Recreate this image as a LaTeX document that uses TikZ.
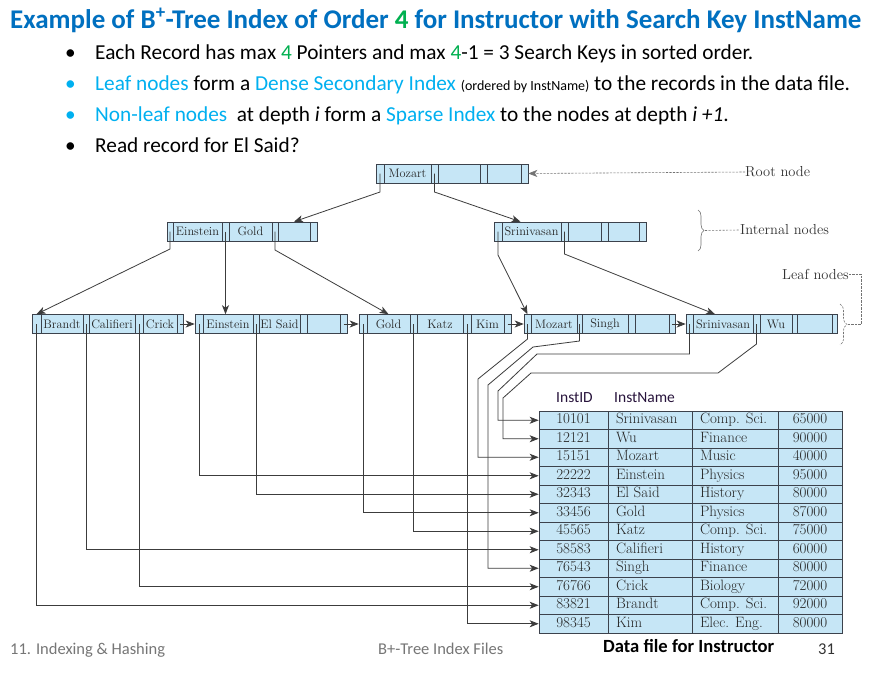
\documentclass[tikz,border=0pt]{standalone}
\usepackage{fontspec}
\newfontfamily\calibri{Carlito}
\usetikzlibrary{arrows.meta,decorations.pathreplacing}

\definecolor{titleblue}{RGB}{0,112,192}
\definecolor{keygreen}{RGB}{0,176,80}
\definecolor{skyblue}{RGB}{0,176,240}
\definecolor{cellfill}{RGB}{198,230,246}
\definecolor{cellline}{RGB}{60,66,76}
\definecolor{wire}{RGB}{60,60,60}
\definecolor{footgray}{RGB}{118,118,118}
\definecolor{hdrink}{RGB}{40,20,60}

% one row of cells of a B+-tree node: prefix, centre y, list of x0/x1/text/name
\newcommand\bpcells[3]{%
  \foreach \ca/\cb/\ct/\cn in {#3}{%
    \node[cellbox, minimum width={(\cb-\ca)*1pt}] (#1-\cn) at ({(\ca+\cb)/2},#2) {\ct};
  }}

\begin{document}
\begin{tikzpicture}[x=1pt,y=-1pt,
  cellbox/.style={draw=cellline, fill=cellfill, line width=0.6pt, inner sep=0pt,
    minimum height=19pt, font=\fontsize{12.3}{14}\selectfont, text=black!85},
  tcell/.style={draw=cellline, fill=cellfill, line width=0.7pt, inner sep=0pt,
    minimum height=18.5pt, text height=9.5pt, text depth=2.5pt,
    font=\fontsize{15}{17}\selectfont, text=black!85},
  ptr/.style={draw=wire, line width=0.8pt, -{Stealth[length=9pt,width=7pt,inset=2.5pt]}},
  annot/.style={draw=black!55, line width=0.6pt, dash pattern=on 2.2pt off 1.3pt},
  slide/.style={inner sep=0pt, anchor=base west, font=\calibri\fontsize{21.3}{25}\selectfont},
  dot/.style={inner sep=0pt, anchor=base west, font=\calibri\fontsize{21.3}{25}\selectfont},
  foot/.style={inner sep=0pt, anchor=base west, text=footgray, font=\calibri\fontsize{16.5}{19}\selectfont},
  lbl/.style={inner sep=0pt, anchor=west, font=\fontsize{14.5}{16}\selectfont, text=black!80}
]
\useasboundingbox (0,0) rectangle (874,672);
\fill[white] (0,0) rectangle (874,672);

% ---- heading and bullet points ----
\node[inner sep=0pt, anchor=base west, text=titleblue,
  font=\calibri\bfseries\fontsize{27}{31}\selectfont] (title) at (10,28)
  {Example of B\textsuperscript{+}-Tree Index of Order \textcolor{keygreen}{4} for Instructor with Search Key InstName};

\node[dot] (d1) at (65,59) {\textbullet};
\node[slide] (l1) at (95,59) {Each Record has max \textcolor{keygreen}{4} Pointers and max \textcolor{keygreen}{4}-1 = 3 Search Keys in sorted order.};
\node[dot, text=skyblue] (d2) at (65,90) {\textbullet};
\node[slide] (l2) at (95,90) {\textcolor{skyblue}{Leaf nodes} form a \textcolor{skyblue}{Dense Secondary Index} {\fontsize{14}{16}\selectfont(ordered by InstName)} to the records in the data file.};
\node[dot, text=skyblue] (d3) at (65,121) {\textbullet};
\node[slide] (l3) at (95,121) {\textcolor{skyblue}{Non-leaf nodes}\ \ at depth \textit{i} form a \textcolor{skyblue}{Sparse Index} to the nodes at depth \textit{i +1}.};
\node[dot] (d4) at (65,152) {\textbullet};
\node[slide] (l4) at (95,152) {Read record for El Said?};

% ---- B+-tree nodes ----
\bpcells{root}{173.5}{376/384//p1, 384/431/Mozart/k1, 431/438//p2, 438/480//k2, 480/487//p3, 487/521//k3, 521/528//p4}
\bpcells{inL}{231.5}{167/173//p1, 173/222/Einstein/k1, 222/229//p2, 229/272/Gold/k2, 272/278//p3, 278/310//k3, 310/317//p4}
\bpcells{inR}{231.5}{494/502//p1, 502/561/Srinivasan/k1, 561/568//p2, 568/601//k2, 601/608//p3, 608/639//k3, 639/646//p4}

\bpcells{lf1}{324}{32/41//p1, 41/83/Brandt/k1, 83/89//p2, 89/135/Califieri/k2, 135/143//p3, 143/177/Crick/k3, 177/183//p4}
\bpcells{lf2}{324}{195/203//p1, 203/253/Einstein/k1, 253/259//p2, 259/300/El Said/k2, 300/307//p3, 307/340//k3, 340/347//p4}
\bpcells{lf3}{324}{359/367//p1, 367/410/Gold/k1, 410/417//p2, 417/463/Katz/k2, 463/471//p3, 471/504/Kim/k3, 504/511//p4}
\bpcells{lf4}{324}{524/531//p1, 531/577/Mozart/k1, 577/582//p2, 582/628/Singh/k2, 628/635//p3, 635/669//k3, 669/675//p4}
\bpcells{lf5}{324}{686/693//p1, 693/753/Srinivasan/k1, 753/760//p2, 760/792/Wu/k2, 792/797//p3, 797/832//k3, 832/837//p4}

% ---- tree pointers ----
\draw[ptr] (root-p1.center) -- (380,192) -- (inL-k3.north);
\draw[ptr] (root-p2.center) -- (434.5,192) -- ([xshift=-11pt]inR-k1.north);
\draw[ptr] (inL-p1.center) -- (170,249) -- (lf1-p1.north);
\draw[ptr] (inL-p2.center) -- (inL-p2.center |- lf2-k1.north);
\draw[ptr] (inL-p3.center) -- (275,250) -- (lf3-k1.north);
\draw[ptr] (inR-p1.center) -- (498,255) -- (lf4-p1.north);
\draw[ptr] (inR-p2.center) -- (564.5,254) -- ([xshift=-8pt]lf5-k1.north);

% leaf-to-leaf links
\draw[ptr] (lf1-p4.center) -- (lf2-p1.west);
\draw[ptr] (lf2-p4.center) -- (lf3-p1.west);
\draw[ptr] (lf3-p4.center) -- (lf4-p1.west);
\draw[ptr] (lf4-p4.center) -- (lf5-p1.west);

% ---- data file ----
\node[inner sep=0pt, anchor=base west, text=hdrink, font=\calibri\fontsize{15.5}{18}\selectfont] (hid) at (556,402) {InstID};
\node[inner sep=0pt, anchor=base west, text=hdrink, font=\calibri\fontsize{15.5}{18}\selectfont] (hname) at (614,402) {InstName};

\foreach \ri/\rid/\rnm/\rdp/\rsal in {
  1/10101/Srinivasan/Comp. Sci./65000,
  2/12121/Wu/Finance/90000,
  3/15151/Mozart/Music/40000,
  4/22222/Einstein/Physics/95000,
  5/32343/El Said/History/80000,
  6/33456/Gold/Physics/87000,
  7/45565/Katz/Comp. Sci./75000,
  8/58583/Califieri/History/60000,
  9/76543/Singh/Finance/80000,
  10/76766/Crick/Biology/72000,
  11/83821/Brandt/Comp. Sci./92000,
  12/98345/Kim/Elec. Eng./80000}{
  \pgfmathsetmacro\ry{411+18.5*(\ri-0.5)}
  \node[tcell, minimum width=69pt] (id-\ri) at (573.5,\ry) {\rid};
  \node[tcell, minimum width=84pt] (nm-\ri) at (650,\ry) {\makebox[68pt][l]{\rnm}};
  \node[tcell, minimum width=86pt] (dp-\ri) at (735,\ry) {\makebox[70pt][l]{\rdp}};
  \node[tcell, minimum width=64pt] (sal-\ri) at (810,\ry) {\rsal};
}

% ---- leaf pointers into the data file ----
\draw[ptr] (lf1-p1.center) |- (id-11.west);
\draw[ptr] (lf1-p2.center) |- (id-8.west);
\draw[ptr] (lf1-p3.center) |- (id-10.west);
\draw[ptr] (lf2-p1.center) |- (id-4.west);
\draw[ptr] (lf2-p2.center) |- (id-5.west);
\draw[ptr] (lf3-p1.center) |- (id-6.west);
\draw[ptr] (lf3-p2.center) |- (id-7.west);
\draw[ptr] (lf3-p3.center) |- (id-12.west);
\draw[ptr] (lf4-p1.center) -- (527.5,339) -- (478,379) |- (id-3.west);
\draw[ptr] (lf4-p2.center) -- (579.5,341) -- (533,347) -- (488,385) |- (id-9.west);
\draw[ptr] (lf5-p1.center) -- (689.5,354) -- (537,354) -- (498,391) |- (id-1.west);
\draw[ptr] (lf5-p2.center) -- (756.5,344) -- (718,373) -- (531,373) -- (503,398) |- (id-2.west);

% ---- annotations ----
\node[lbl] (rootlbl) at (745,172) {Root node};
\draw[annot, -{Stealth[length=9pt,width=7pt,inset=2.5pt]}] (rootlbl.west) -- (root-p4.east);

\node[lbl] (intlbl) at (740,230) {Internal nodes};
\draw[annot, solid, decorate, decoration={brace, amplitude=6pt}] (698,210) -- (698,251);
\draw[annot] (705,230.5) -- (intlbl.west);

\node[lbl] (leaflbl) at (782,274) {Leaf nodes};
\draw[annot, decorate, decoration={brace, amplitude=7pt}] (840,304) -- (840,345);
\draw[annot] (leaflbl.east) -| (861,324.5) -- (848,324.5);

% ---- slide footer ----
\node[inner sep=0pt, anchor=base west, font=\calibri\bfseries\fontsize{18.6}{22}\selectfont] (cap) at (603,652) {Data file for Instructor};
\node[foot] (f1) at (10,654) {11. Indexing \& Hashing};
\node[foot] (f2) at (378,654) {B+-Tree Index Files};
\node[foot, text=black!80] (f3) at (818,654) {31};
\end{tikzpicture}
\end{document}
